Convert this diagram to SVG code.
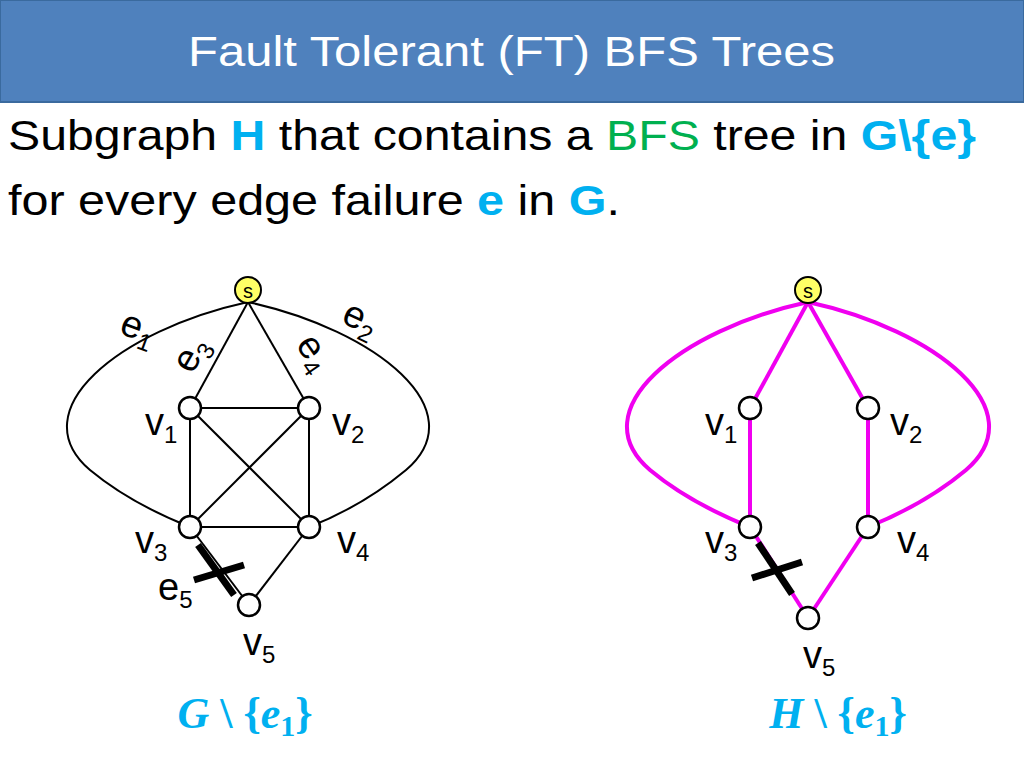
<svg xmlns="http://www.w3.org/2000/svg" width="1024" height="768" viewBox="0 0 1024 768">
<style>
.t{font-family:"Comic Sans MS","Liberation Sans",sans-serif}
.e{stroke:#000;stroke-width:2;fill:none}
.m{stroke:#F000F0;stroke-width:4;fill:none}
.n{fill:#fff;stroke:#000;stroke-width:2.5}
.s{fill:#FFFF66;stroke:#000;stroke-width:2}
.lbl{font-family:"Liberation Sans",sans-serif;font-size:38px;fill:#000}
.sub{font-size:24px}
.x{stroke:#000;stroke-width:7;stroke-linecap:butt}
</style>
<rect width="1024" height="768" fill="#fff"/>
<rect x="0" y="0" width="1024" height="102" fill="#4F81BD" stroke="#3A6A9E" stroke-width="2"/>
<text class="t" x="188" y="66" font-size="42" fill="#fff" textLength="647" lengthAdjust="spacingAndGlyphs">Fault Tolerant (FT) BFS Trees</text>
<text class="t" x="8" y="150" font-size="42" fill="#000" textLength="968" lengthAdjust="spacingAndGlyphs">Subgraph <tspan fill="#00B0F0" font-weight="bold">H</tspan> that contains a <tspan fill="#00B050">BFS</tspan> tree in <tspan fill="#00B0F0" font-weight="bold">G\{e}</tspan></text>
<text class="t" x="8" y="215" font-size="42" fill="#000" textLength="612" lengthAdjust="spacingAndGlyphs">for every edge failure <tspan fill="#00B0F0" font-weight="bold">e</tspan> in <tspan fill="#00B0F0" font-weight="bold">G</tspan>.</text>
<g id="connectors">
<line class="e" x1="248" y1="302" x2="190" y2="408"/>
<line class="e" x1="248" y1="302" x2="309" y2="408"/>
<line class="e" x1="190" y1="408" x2="309" y2="408"/>
<line class="e" x1="190" y1="408" x2="190" y2="527"/>
<line class="e" x1="309" y1="408" x2="309" y2="527"/>
<line class="e" x1="190" y1="527" x2="309" y2="527"/>
<line class="e" x1="190" y1="408" x2="309" y2="527"/>
<line class="e" x1="309" y1="408" x2="190" y2="527"/>
<line class="e" x1="309" y1="527" x2="249" y2="605"/>
<line class="e" x1="190" y1="527" x2="249" y2="605"/>
<path class="e" d="M248,302 C120,330 20,410 90,470 C120,495 160,515 190,527"/>
<path class="e" d="M248,302 C376,330 476,410 406,470 C376,495 340,515 309,527"/>
<line class="x" x1="198" y1="545" x2="234" y2="595"/>
<line class="x" x1="194" y1="580" x2="244" y2="565"/>
<line class="m" x1="808" y1="302" x2="750" y2="408"/>
<line class="m" x1="808" y1="302" x2="868" y2="408"/>
<line class="m" x1="750" y1="408" x2="750" y2="527"/>
<line class="m" x1="868" y1="408" x2="868" y2="527"/>
<line class="m" x1="750" y1="527" x2="808" y2="618"/>
<line class="m" x1="868" y1="527" x2="808" y2="618"/>
<path class="m" d="M808,302 C680,330 580,410 650,470 C680,495 720,515 750,527"/>
<path class="m" d="M808,302 C936,330 1036,410 966,470 C936,495 898,515 868,527"/>
<line class="x" x1="758" y1="543" x2="792" y2="594"/>
<line class="x" x1="752" y1="578" x2="802" y2="562"/>
</g>
<g id="s1"><circle class="s" cx="248" cy="290" r="13"/><text class="t" x="248" y="298" font-size="20" text-anchor="middle">s</text></g>
<g id="s2"><circle class="s" cx="808" cy="290" r="13"/><text class="t" x="808" y="298" font-size="20" text-anchor="middle">s</text></g>
<g id="l-v1"><circle class="n" cx="190" cy="408" r="11"/><text class="lbl" x="145" y="435">v<tspan class="sub" dy="8">1</tspan></text></g>
<g id="l-v2"><circle class="n" cx="309" cy="408" r="11"/><text class="lbl" x="332" y="435">v<tspan class="sub" dy="8">2</tspan></text></g>
<g id="l-v3"><circle class="n" cx="190" cy="527" r="11"/><text class="lbl" x="135" y="553">v<tspan class="sub" dy="8">3</tspan></text></g>
<g id="l-v4"><circle class="n" cx="309" cy="527" r="11"/><text class="lbl" x="337" y="553">v<tspan class="sub" dy="8">4</tspan></text></g>
<g id="l-v5"><circle class="n" cx="249" cy="605" r="11"/><text class="lbl" x="243" y="655">v<tspan class="sub" dy="8">5</tspan></text></g>
<g id="r-v1"><circle class="n" cx="750" cy="408" r="11"/><text class="lbl" x="705" y="435">v<tspan class="sub" dy="8">1</tspan></text></g>
<g id="r-v2"><circle class="n" cx="868" cy="408" r="11"/><text class="lbl" x="890" y="435">v<tspan class="sub" dy="8">2</tspan></text></g>
<g id="r-v3"><circle class="n" cx="750" cy="527" r="11"/><text class="lbl" x="705" y="553">v<tspan class="sub" dy="8">3</tspan></text></g>
<g id="r-v4"><circle class="n" cx="868" cy="527" r="11"/><text class="lbl" x="897" y="553">v<tspan class="sub" dy="8">4</tspan></text></g>
<g id="r-v5"><circle class="n" cx="808" cy="618" r="11"/><text class="lbl" x="803" y="668">v<tspan class="sub" dy="8">5</tspan></text></g>
<g id="edge-labels">
<text class="lbl" transform="translate(118,333) rotate(20)">e<tspan class="sub" dy="8">1</tspan></text>
<text class="lbl" transform="translate(340,322) rotate(25)">e<tspan class="sub" dy="8">2</tspan></text>
<text class="lbl" transform="translate(192,375) rotate(-60)">e<tspan class="sub" dy="8">3</tspan></text>
<text class="lbl" transform="translate(295,345) rotate(55)">e<tspan class="sub" dy="8">4</tspan></text>
<text class="lbl" x="158" y="600">e<tspan class="sub" dy="8">5</tspan></text>
</g>
<text x="245" y="728" font-family="Liberation Serif,serif" font-size="44" font-weight="bold" fill="#00B0F0" text-anchor="middle"><tspan font-style="italic">G</tspan> \ {<tspan font-style="italic">e</tspan><tspan font-size="30" dy="8">1</tspan><tspan dy="-8">}</tspan></text>
<text x="838" y="728" font-family="Liberation Serif,serif" font-size="44" font-weight="bold" fill="#00B0F0" text-anchor="middle"><tspan font-style="italic">H</tspan> \ {<tspan font-style="italic">e</tspan><tspan font-size="30" dy="8">1</tspan><tspan dy="-8">}</tspan></text>
</svg>
